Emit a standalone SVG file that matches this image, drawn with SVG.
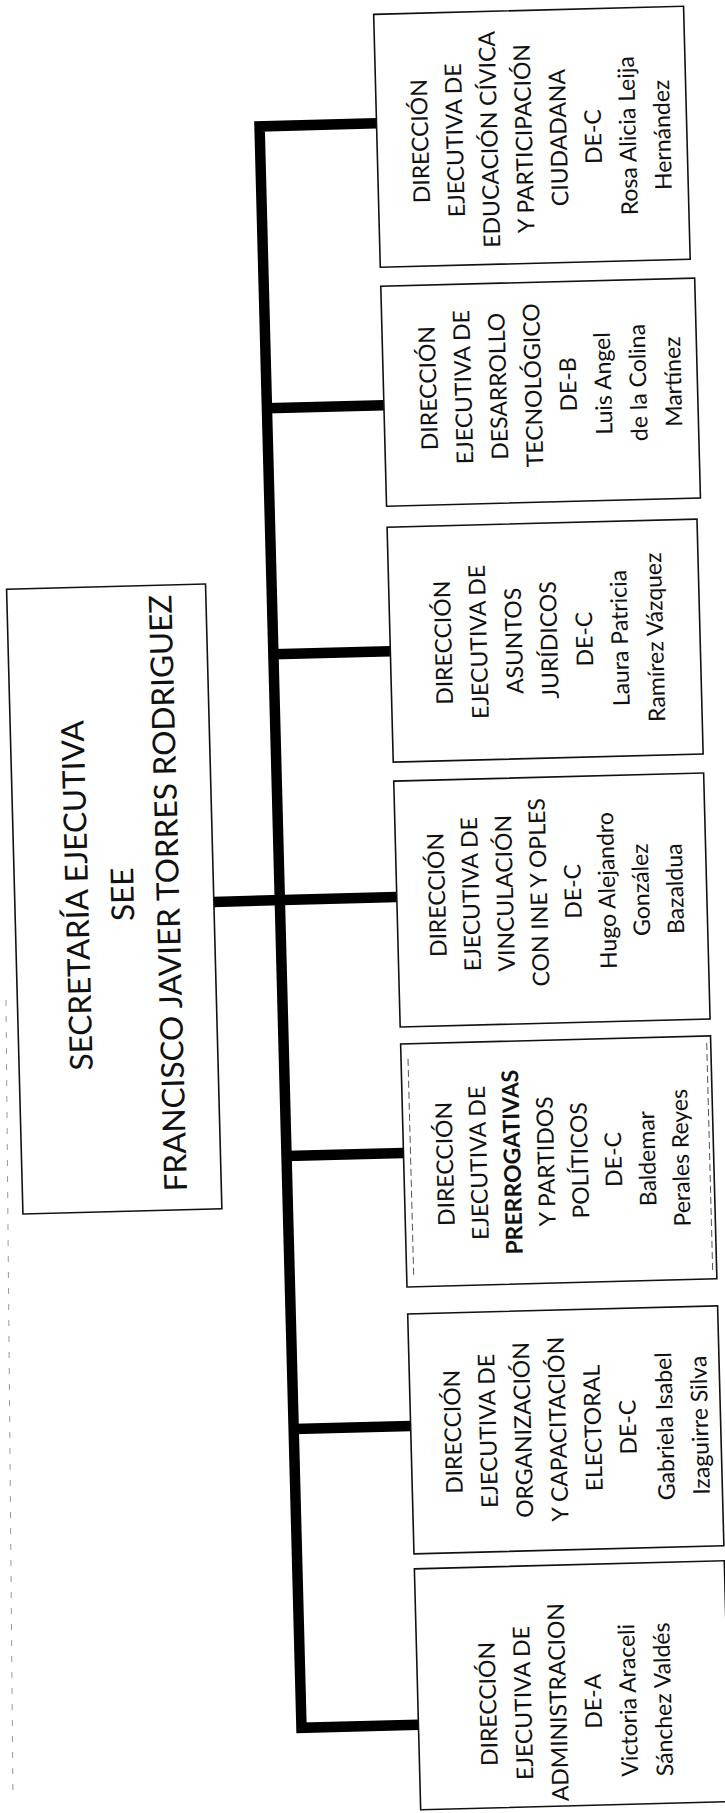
<svg xmlns="http://www.w3.org/2000/svg" width="725" height="1813" viewBox="0 0 725 1813">
<style>
  .box{fill:#fff;stroke:#111;stroke-width:1.6}
  .t{font-family:Lato,"Open Sans","Liberation Sans",sans-serif;font-size:23px;fill:#111;text-anchor:middle}
  .tm{font-family:Lato,"Open Sans","Liberation Sans",sans-serif;font-size:31.5px;fill:#111;text-anchor:middle}
  .b{font-weight:bold}
  .conn{fill:none;stroke:#000;stroke-width:10.5;stroke-linejoin:miter;stroke-linecap:butt}
  .inner{fill:none;stroke:#444;stroke-width:0.9;stroke-dasharray:7 4}
</style>
<rect width="725" height="1813" fill="#fff"/>
<line x1="6" y1="1000" x2="13" y2="1800" stroke="#9a9a9a" stroke-width="1" stroke-dasharray="6 10"/>
<g transform="rotate(-1.5 362 906)">
  <g id="connectors">
    <path class="conn" d="M397 124 H280 V1726 H397"/>
    <path class="conn" d="M214 898 H397"/>
    <path class="conn" d="M280 406 H397"/>
    <path class="conn" d="M280 652 H397"/>
    <path class="conn" d="M280 1154 H397"/>
    <path class="conn" d="M280 1427 H397"/>
  </g>
  <g id="see">
    <rect class="box" x="15" y="580" width="199" height="625"/>
    <g transform="translate(0,888) rotate(-90)">
      <text class="tm" x="0" y="88.5">SECRETARÍA EJECUTIVA</text>
      <text class="tm" x="0" y="134">SEE</text>
      <text class="tm" x="0" y="179.5">FRANCISCO JAVIER TORRES RODRIGUEZ</text>
    </g>
  </g>
  <g id="decpc">
    <rect class="box" x="397" y="15" width="310" height="253"/>
    <g transform="translate(0,143) rotate(-90)">
      <text class="t" x="0" y="448.3">DIRECCIÓN</text>
      <text class="t" x="0" y="482.9">EJECUTIVA DE</text>
      <text class="t" x="0" y="517.5">EDUCACIÓN CÍVICA</text>
      <text class="t" x="0" y="552.1">Y PARTICIPACIÓN</text>
      <text class="t" x="0" y="586.7">CIUDADANA</text>
      <text class="t" x="0" y="621.3">DE-C</text>
      <text class="t" x="0" y="655.9">Rosa Alicia Leija</text>
      <text class="t" x="0" y="690.5">Hernández</text>
    </g>
  </g>
  <g id="dedt">
    <rect class="box" x="397" y="287" width="314" height="220"/>
    <g transform="translate(0,390) rotate(-90)">
      <text class="t" x="0" y="449.8">DIRECCIÓN</text>
      <text class="t" x="0" y="484.8">EJECUTIVA DE</text>
      <text class="t" x="0" y="519.8">DESARROLLO</text>
      <text class="t" x="0" y="554.8">TECNOLÓGICO</text>
      <text class="t" x="0" y="589.8">DE-B</text>
      <text class="t" x="0" y="624.8">Luis Angel</text>
      <text class="t" x="0" y="659.8">de la Colina</text>
      <text class="t" x="0" y="694.8">Martínez</text>
    </g>
  </g>
  <g id="deaj">
    <rect class="box" x="397" y="528" width="310" height="235"/>
    <g transform="translate(0,645) rotate(-90)">
      <text class="t" x="0" y="458.3">DIRECCIÓN</text>
      <text class="t" x="0" y="493.6">EJECUTIVA DE</text>
      <text class="t" x="0" y="528.9">ASUNTOS</text>
      <text class="t" x="0" y="564.2">JURÍDICOS</text>
      <text class="t" x="0" y="599.5">DE-C</text>
      <text class="t" x="0" y="634.8">Laura Patricia</text>
      <text class="t" x="0" y="670.1">Ramírez Vázquez</text>
    </g>
  </g>
  <g id="devio">
    <rect class="box" x="397" y="782" width="310" height="246"/>
    <g transform="translate(0,897) rotate(-90)">
      <text class="t" x="0" y="445.3">DIRECCIÓN</text>
      <text class="t" x="0" y="479.3">EJECUTIVA DE</text>
      <text class="t" x="0" y="513.3">VINCULACIÓN</text>
      <text class="t" x="0" y="547.3">CON INE Y OPLES</text>
      <text class="t" x="0" y="581.3">DE-C</text>
      <text class="t" x="0" y="615.3">Hugo Alejandro</text>
      <text class="t" x="0" y="649.3">González</text>
      <text class="t" x="0" y="683.3">Bazaldua</text>
    </g>
  </g>
  <g id="deppp">
    <rect class="box" x="397" y="1045" width="310" height="243"/>
    <line class="inner" x1="404" y1="1060" x2="404" y2="1280"/>
    <line class="inner" x1="703" y1="1052" x2="703" y2="1282"/>
    <g transform="translate(0,1166) rotate(-90)">
      <text class="t" x="0" y="446.3">DIRECCIÓN</text>
      <text class="t" x="0" y="480">EJECUTIVA DE</text>
      <text class="t b" x="0" y="513.7">PRERROGATIVAS</text>
      <text class="t" x="0" y="547.4">Y PARTIDOS</text>
      <text class="t" x="0" y="581.1">POLÍTICOS</text>
      <text class="t" x="0" y="614.8">DE-C</text>
      <text class="t" x="0" y="648.5">Baldemar</text>
      <text class="t" x="0" y="682.2">Perales Reyes</text>
    </g>
  </g>
  <g id="deoce">
    <rect class="box" x="397" y="1315" width="310" height="240"/>
    <g transform="translate(0,1434) rotate(-90)">
      <text class="t" x="0" y="447.3">DIRECCIÓN</text>
      <text class="t" x="0" y="482.3">EJECUTIVA DE</text>
      <text class="t" x="0" y="517.3">ORGANIZACIÓN</text>
      <text class="t" x="0" y="552.3">Y CAPACITACIÓN</text>
      <text class="t" x="0" y="587.3">ELECTORAL</text>
      <text class="t" x="0" y="622.3">DE-C</text>
      <text class="t" x="0" y="659.3">Gabriela Isabel</text>
      <text class="t" x="0" y="694.3">Izaguirre Silva</text>
    </g>
  </g>
  <g id="dea">
    <rect class="box" x="397" y="1570" width="310" height="241"/>
    <g transform="translate(0,1707) rotate(-90)">
      <text class="t" x="0" y="475.3">DIRECCIÓN</text>
      <text class="t" x="0" y="510.3">EJECUTIVA DE</text>
      <text class="t" x="0" y="545.3">ADMINISTRACION</text>
      <text class="t" x="0" y="580.3">DE-A</text>
      <text class="t" x="0" y="615.3">Victoria Araceli</text>
      <text class="t" x="0" y="650.3">Sánchez Valdés</text>
    </g>
  </g>
</g>
</svg>
